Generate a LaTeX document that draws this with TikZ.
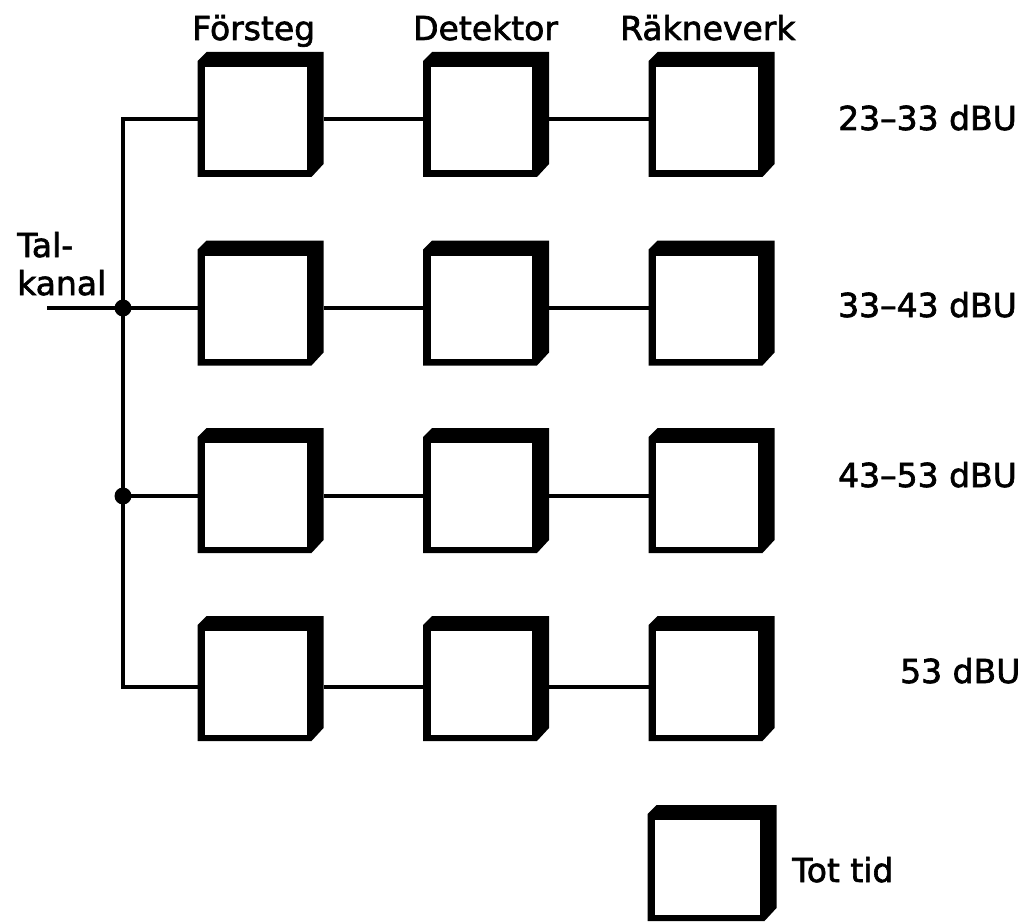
\documentclass[tikz,border=0pt]{standalone}
\usepackage{fontspec}
\setmainfont{DejaVu Sans}
\newfontfamily\lblfont[FakeBold=2]{DejaVu Sans}
\begin{document}
\begin{tikzpicture}[x=1pt,y=-1pt,
  blk/.style={minimum width=126pt, minimum height=125pt, inner sep=0pt, outer sep=0pt,
    path picture={
      \fill[black] ([xshift=9pt]path picture bounding box.north west)
        -- (path picture bounding box.north east)
        -- ([yshift=13pt]path picture bounding box.south east)
        -- ([xshift=-12pt]path picture bounding box.south east)
        -- (path picture bounding box.south west)
        -- ([yshift=-9pt]path picture bounding box.north west) -- cycle;
      \fill[white] ([xshift=7.5pt,yshift=-15pt]path picture bounding box.north west)
        rectangle ([xshift=-17pt,yshift=6.5pt]path picture bounding box.south east);
    }},
  wire/.style={line width=3.5pt},
  lbl/.style={font=\lblfont\fontsize{33}{36}\selectfont, inner sep=0pt, anchor=base west},
  dotnode/.style={circle, fill=black, inner sep=0pt, minimum size=17pt}
]
\useasboundingbox (0,0) rectangle (1026,923);

% header labels
\node[lbl] (hf) at (192,40) {Försteg};
\node[lbl] (hd) at (413,40) {Detektor};
\node[lbl] (hr) at (620,40) {Räkneverk};

% boxes
\node[blk] (f1) at (260.5,114.5) {};
\node[blk] (d1) at (486,114.5) {};
\node[blk] (r1) at (711.5,114.5) {};
\node[blk] (f2) at (260.5,303) {};
\node[blk] (d2) at (486,303) {};
\node[blk] (r2) at (711.5,303) {};
\node[blk] (f3) at (260.5,490.5) {};
\node[blk] (d3) at (486,490.5) {};
\node[blk] (r3) at (711.5,490.5) {};
\node[blk] (f4) at (260.5,678.5) {};
\node[blk] (d4) at (486,678.5) {};
\node[blk] (r4) at (711.5,678.5) {};
\node[blk, minimum width=129pt, minimum height=116pt] (tt) at (712,863) {};

% right labels
\node[lbl] (l1) at (838,130) {23–33 dBU};
\node[lbl] (l2) at (838,317) {33–43 dBU};
\node[lbl] (l3) at (838,487) {43–53 dBU};
\node[lbl] (l4) at (900,683) {53 dBU};
\node[lbl] (l5) at (792,882) {Tot tid};

% input label
\node[lbl] (tal1) at (17,257) {Tal-};
\node[lbl] (tal2) at (17,295) {kanal};

% junction coordinates
\coordinate (j1) at (123,119);
\coordinate (j2) at (123,308);
\coordinate (j3) at (123,496);
\coordinate (j4) at (123,687);
\coordinate (in) at (47,308);

% bus
\draw[wire, line join=miter] ([yshift=-4.5pt]f1.west) -- (j1) -- (j4) -- ([yshift=-8.5pt]f4.west);
\draw[wire] (in) -- (j2) -- ([yshift=-5pt]f2.west);
\draw[wire] (j3) -- ([yshift=-5.5pt]f3.west);
\node[dotnode] (dot2) at (j2) {};
\node[dotnode] (dot3) at (j3) {};

% row connectors
\draw[wire] ([yshift=-4.5pt]f1.east) -- ([yshift=-4.5pt]d1.west);
\draw[wire] ([yshift=-4.5pt]d1.east) -- ([yshift=-4.5pt]r1.west);
\draw[wire] ([yshift=-5pt]f2.east) -- ([yshift=-5pt]d2.west);
\draw[wire] ([yshift=-5pt]d2.east) -- ([yshift=-5pt]r2.west);
\draw[wire] ([yshift=-5.5pt]f3.east) -- ([yshift=-5.5pt]d3.west);
\draw[wire] ([yshift=-5.5pt]d3.east) -- ([yshift=-5.5pt]r3.west);
\draw[wire] ([yshift=-8.5pt]f4.east) -- ([yshift=-8.5pt]d4.west);
\draw[wire] ([yshift=-8.5pt]d4.east) -- ([yshift=-8.5pt]r4.west);
\end{tikzpicture}
\end{document}
